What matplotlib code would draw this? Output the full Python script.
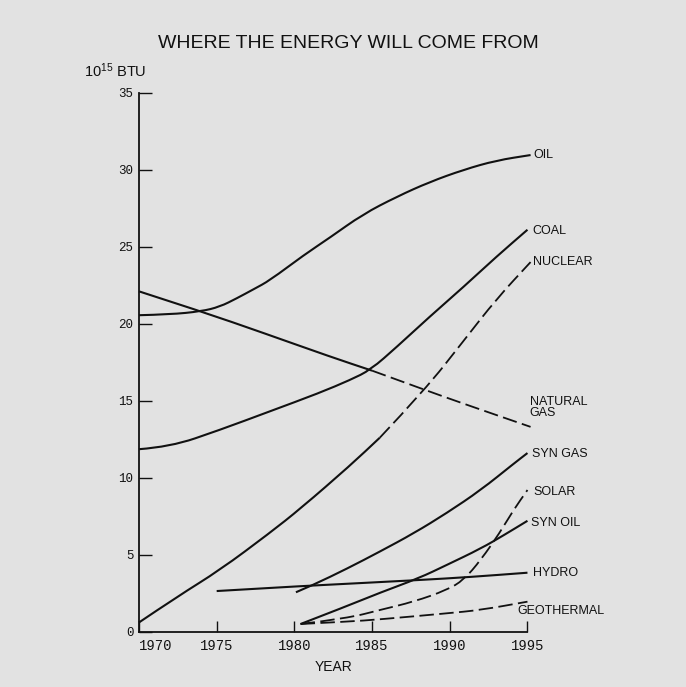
import matplotlib.pyplot as plt
from matplotlib.path import Path
from matplotlib.patches import PathPatch

plt.rcParams['font.family'] = ['Liberation Sans', 'DejaVu Sans']
plt.rcParams['mathtext.default'] = 'regular'

# values (10^15 BTU)
oil_years = [1970, 1972, 1974, 1975.2, 1976.3, 1977.4, 1978.4, 1980.6, 1982.3, 1984.4, 1986.6, 1988.7, 1990.9, 1993.0, 1995.2]
oil = [20.55, 20.6, 20.8, 21.1, 21.65, 22.25, 22.8, 24.45, 25.6, 27.1, 28.25, 29.2, 30.0, 30.6, 30.95]

coal_years = [1970, 1972, 1975.2, 1978.4, 1981.6, 1983.6, 1984.9, 1986.6, 1988.7, 1990.9, 1993.0, 1995.0]
coal = [11.85, 12.0, 13.1, 14.3, 15.5, 16.35, 17.0, 18.5, 20.45, 22.4, 24.35, 26.1]

gas_years = [1970, 1974, 1978, 1982.3, 1985.0]
gas = [22.1, 20.8, 19.4, 17.86, 16.95]
gas_proj_years = [1985.0, 1988.4, 1990.9, 1995.2]
gas_proj = [16.95, 15.7, 14.8, 13.3]

nuc_years = [1970, 1972.5, 1975.2, 1978.4, 1980.4, 1983.6, 1985.5]
nuc = [0.6, 2.3, 4.0, 6.4, 8.0, 10.8, 12.6]
nuc_proj_years = [1985.5, 1988.4, 1990.9, 1993.0, 1995.2]
nuc_proj = [12.6, 15.7, 18.9, 21.6, 24.0]

syngas_years = [1980.1, 1981.2, 1983.4, 1985.5, 1987.7, 1989.8, 1992.0, 1994.1, 1995.0]
syngas = [2.56, 3.03, 4.1, 5.2, 6.4, 7.7, 9.2, 10.9, 11.6]

solar_years = [1980.4, 1983.4, 1985.5, 1987.7, 1989.8, 1990.9, 1992.0, 1993.2, 1994.1, 1995.0]
solar = [0.5, 0.87, 1.41, 1.95, 2.7, 3.36, 4.66, 6.4, 7.9, 9.2]

synoil_years = [1980.4, 1983.4, 1985.5, 1988.0, 1989.8, 1992.0, 1993.5, 1995.0]
synoil = [0.5, 1.67, 2.53, 3.47, 4.33, 5.4, 6.28, 7.2]

hydro_years = [1975.0, 1979.1, 1981.2, 1988.0, 1991.3, 1995.0]
hydro = [2.64, 2.88, 3.0, 3.35, 3.55, 3.83]

geo_years = [1980.4, 1983.4, 1985.5, 1989.8, 1992.0, 1995.0]
geo = [0.5, 0.65, 0.8, 1.19, 1.41, 1.95]

x_ticks = [1970, 1975, 1980, 1985, 1990, 1995]
y_ticks = [0, 5, 10, 15, 20, 25, 30, 35]

bg = '#e2e2e2'
ink = '#111111'
dash = (0, (8, 3))


def curve(ax, xs, ys, ls='-', lw=1.5):
    # draw a smooth pen line through the read points (quadratic bezier via midpoints)
    verts = [(xs[0], ys[0])]
    codes = [Path.MOVETO]
    for i in range(1, len(xs) - 1):
        verts += [(xs[i], ys[i]), ((xs[i] + xs[i + 1]) / 2, (ys[i] + ys[i + 1]) / 2)]
        codes += [Path.CURVE3, Path.CURVE3]
    verts.append((xs[-1], ys[-1]))
    codes.append(Path.LINETO)
    ax.add_patch(PathPatch(Path(verts, codes), fill=False, edgecolor=ink, lw=lw,
                           ls=ls, clip_on=False, capstyle='butt'))


fig = plt.figure(figsize=(6.86, 6.87), dpi=100, facecolor=bg)
ax = fig.add_axes([0.2026, 0.0805, 0.5663, 0.7846])
ax.set_facecolor(bg)

curve(ax, oil_years, oil)
curve(ax, coal_years, coal)
curve(ax, gas_years, gas)
curve(ax, gas_proj_years, gas_proj, ls=dash, lw=1.3)
curve(ax, nuc_years, nuc)
curve(ax, nuc_proj_years, nuc_proj, ls=dash, lw=1.3)
curve(ax, syngas_years, syngas)
curve(ax, solar_years, solar, ls=dash, lw=1.3)
curve(ax, synoil_years, synoil)
curve(ax, hydro_years, hydro)
curve(ax, geo_years, geo, ls=dash, lw=1.3)

# labels at line ends (offsets in pixels)
labels = [
    ('OIL', oil_years, oil, 3, 0),
    ('COAL', coal_years, coal, 5, -1),
    ('NUCLEAR', nuc_proj_years, nuc_proj, 2, 0),
    ('NATURAL\nGAS', gas_proj_years, gas_proj, -1, 19),
    ('SYN GAS', syngas_years, syngas, 5, -1),
    ('SOLAR', solar_years, solar, 6, -2),
    ('SYN OIL', synoil_years, synoil, 4, -2),
    ('HYDRO', hydro_years, hydro, 6, 0),
    ('GEOTHERMAL', geo_years, geo, -10, -9),
]
for name, xs, ys, dx, dy in labels:
    ax.annotate(name, xy=(xs[-1], ys[-1]), xytext=(dx, dy), textcoords='offset pixels',
                ha='left', va='center', fontsize=9, color=ink, linespacing=0.9,
                annotation_clip=False)

ax.set_xlim(1970, 1995)
ax.set_ylim(0, 35)
ax.set_xticks(x_ticks)
ax.set_yticks(y_ticks)
ax.set_xticklabels([str(v) for v in x_ticks], fontfamily='Liberation Mono', fontsize=10, color=ink)
ax.set_yticklabels([str(v) for v in y_ticks], fontfamily='Liberation Mono', fontsize=9, color=ink)
ax.xaxis.get_ticklabels()[0].set_horizontalalignment('left')
ax.tick_params(axis='x', direction='in', length=8, width=1, pad=5, colors=ink)
ax.tick_params(axis='y', direction='in', length=9, width=1, pad=4, colors=ink)

for s in ['top', 'right']:
    ax.spines[s].set_visible(False)
for s in ['left', 'bottom']:
    ax.spines[s].set_color(ink)
    ax.spines[s].set_linewidth(1.3)

fig.text(348.5 / 686, 1 - 43 / 687, 'WHERE THE ENERGY WILL COME FROM',
         ha='center', va='center', fontsize=14, color=ink)
fig.text(84 / 686, 1 - 77 / 687, '10$^{15}$ BTU', ha='left', va='baseline', fontsize=10.5, color=ink)
fig.text(334 / 686, 1 - 667 / 687, 'YEAR', ha='center', va='center', fontsize=10, color=ink)

fig.savefig('out.png', dpi=100, facecolor=bg)
